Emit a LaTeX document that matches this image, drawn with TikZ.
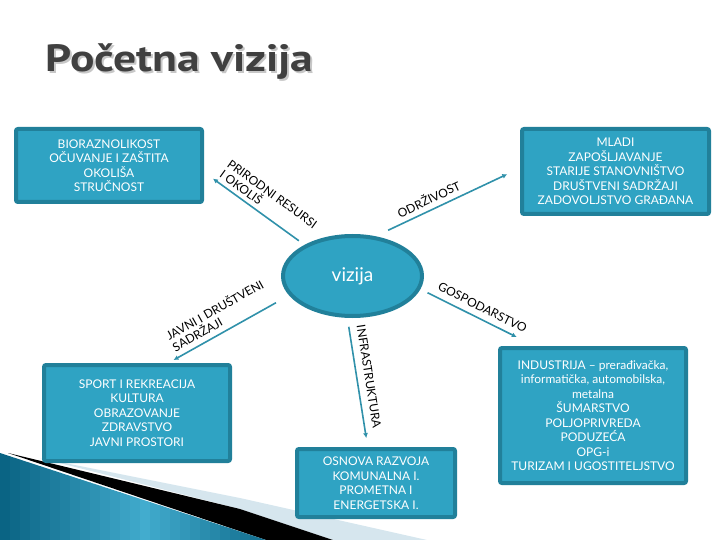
\documentclass[tikz,border=0pt]{standalone}
\usepackage{fontspec}
\setmainfont{Lato}
\newfontfamily\titlefont{PT Sans}
\usetikzlibrary{arrows.meta}
\usetikzlibrary{shapes.geometric}
\definecolor{boxfill}{RGB}{47,163,195}
\definecolor{boxedge}{RGB}{33,128,154}
\definecolor{linkcol}{RGB}{48,145,170}
\definecolor{titlegray}{RGB}{64,64,64}
\definecolor{swdark}{RGB}{10,100,132}
\definecolor{swlight}{RGB}{66,172,206}
\definecolor{swpale}{RGB}{214,230,238}

\begin{document}
\begin{tikzpicture}[x=1pt, y=-1pt,
  infobox/.style={draw=boxedge, fill=boxfill, line width=4pt, rounded corners=2pt,
    text=white, align=center, inner sep=0pt, font=\fontsize{12}{14.5}\selectfont},
  link/.style={draw=linkcol, line width=1.6pt, -{Latex[length=5pt,width=5pt]}},
  linklabel/.style={font=\fontsize{12}{13}\selectfont, sloped, align=left, inner sep=1pt}]
		\useasboundingbox (0,0) rectangle (720,540);
		% background swoosh
		\fill[swpale] (40,458) -- (240,498) -- (427,540) -- (333,540) -- (240,509) -- cycle;
		\fill[black] (8,453) -- (240,509) -- (333,540) -- (266,540) -- cycle;
		\begin{scope}
			\clip (0,453) -- (266,540) -- (0,540) -- cycle;
			\foreach \i in {0,...,27} {
				\pgfmathtruncatemacro\mix{100-abs(\i-14)*100/14}
				\fill[swlight!\mix!swdark] (\i*10,450) rectangle (\i*10+10.5,540);
			}
		\end{scope}
		% title
		\node[font=\titlefont\bfseries\fontsize{38}{40}\selectfont, text=black!22, anchor=base west] (sjena) at (44,74) {\scalebox{1.2}[1]{Početna vizija}};
		\node[font=\titlefont\bfseries\fontsize{38}{40}\selectfont, text=titlegray, anchor=base west] (naslov) at (42,72) {\scalebox{1.2}[1]{Početna vizija}};
		% nodes
		\node[infobox, ellipse, minimum width=139pt, minimum height=80pt, font=\fontsize{19}{20}\selectfont] (vizija) at (352.5,276) {vizija};
		\node[infobox, minimum width=186pt, minimum height=73pt] (okolis) at (109,165.5) {BIORAZNOLIKOST\\OČUVANJE I ZAŠTITA\\OKOLIŠA\\STRUČNOST};
		\node[infobox, minimum width=187pt, minimum height=85pt] (drustvo) at (615.5,171.5) {MLADI\\ZAPOŠLJAVANJE\\STARIJE STANOVNIŠTVO\\DRUŠTVENI SADRŽAJI\\ZADOVOLJSTVO GRAĐANA};
		\node[infobox, minimum width=186pt, minimum height=96pt] (javno) at (137,413) {SPORT I REKREACIJA\\KULTURA\\OBRAZOVANJE\\ZDRAVSTVO\\JAVNI PROSTORI};
		\node[infobox, minimum width=158pt, minimum height=68pt] (infra) at (376,483) {OSNOVA RAZVOJA\\KOMUNALNA I.\\PROMETNA I\\ENERGETSKA I.};
		\node[infobox, minimum width=186pt, minimum height=135pt] (gospodarstvo) at (593,415.5) {INDUSTRIJA – prerađivačka,\\informatička, automobilska,\\metalna\\ŠUMARSTVO\\POLJOPRIVREDA\\PODUZEĆA\\OPG-i\\TURIZAM I UGOSTITELJSTVO};
		% connectors
		\draw[link, shorten <=7pt, shorten >=11pt] (vizija.147) -- node[linklabel, pos=0.45, above=3pt] {PRIRODNI RESURSI\\I OKOLIŠ} (okolis.-4);
		\draw[link, shorten <=14pt, shorten >=14pt] (vizija.60) -- node[linklabel, pos=0.4, above=4pt] {ODRŽIVOST} (drustvo.178);
		\draw[link, shorten <=8pt, shorten >=20pt] (vizija.-11) -- node[linklabel, midway, above=5pt] {GOSPODARSTVO} (gospodarstvo.130);
		\draw[link, shorten <=15pt, shorten >=6pt] (vizija.197) -- node[linklabel, pos=0.52, above=4pt] {JAVNI I DRUŠTVENI\\SADRŽAJI} (javno.58);
		\draw[link, shorten <=9pt, shorten >=9pt] (vizija.-97) -- node[linklabel, pos=0.47, above=6pt] {INFRASTRUKTURA} (infra.103);
	\end{tikzpicture}
\end{document}
